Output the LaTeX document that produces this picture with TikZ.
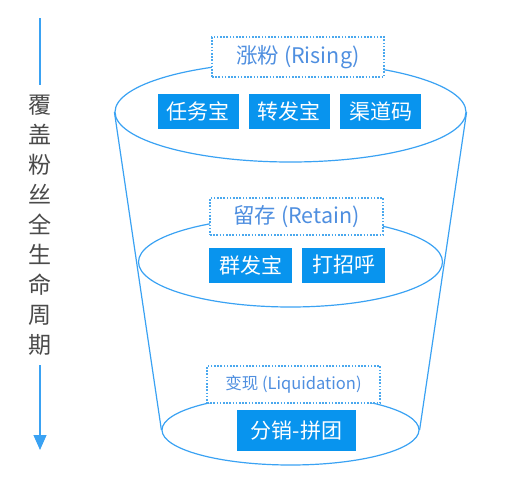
\documentclass[tikz,border=0pt]{standalone}
\usepackage{fontspec}
\setmainfont{Noto Sans CJK SC}
\usepackage{xcolor}
\usepackage{tikz}
\usetikzlibrary{positioning,shapes.geometric,arrows.meta}

\definecolor{cupline}{HTML}{3AA2F3}
\definecolor{dashblue}{HTML}{4AA8EE}
\definecolor{stagetext}{HTML}{4F8FE0}
\definecolor{toolblue}{HTML}{0894EE}
\definecolor{graytext}{HTML}{4A4A4A}

\tikzset{
  rim/.style={draw=cupline, line width=1.2pt, ellipse, inner sep=0pt},
  stage/.style={draw=dashblue, line width=1.1pt, dash pattern=on 1.6pt off 1.6pt,
    fill=white, rectangle, inner sep=0pt, text=stagetext,
    font=\fontsize{21.5}{21.5}\selectfont},
  tool/.style={fill=toolblue, text=white, rectangle, inner sep=0pt,
    minimum width=81pt, minimum height=35pt, font=\fontsize{21}{21}\selectfont},
}

\begin{document}
\begin{tikzpicture}[x=1pt, y=-1pt]
            \useasboundingbox (0,0) rectangle (523,477);

            % cup
            \node (rimtop) [rim, minimum width=351pt, minimum height=100pt] at (290.5,112) {};
            \node (rimmid) [rim, minimum width=304pt, minimum height=90pt] at (290.5,262) {};
            \node (rimbot) [rim, minimum width=257pt, minimum height=70pt] at (290.5,430) {};
            \draw[cupline, line width=1.2pt] (rimtop.west) -- (rimbot.west);
            \draw[cupline, line width=1.2pt] (rimtop.east) -- (rimbot.east);

            % stages
            \node (rising) [stage, minimum width=172pt, minimum height=40pt] at (298,57) {涨粉 (Rising)};
            \node (retain) [stage, minimum width=173pt, minimum height=37pt] at (296.5,216.5) {留存 (Retain)};
            \node (liquid) [stage, minimum width=173pt, minimum height=37pt, font=\fontsize{16.5}{16.5}\selectfont] at (293.5,384.5) {变现 (Liquidation)};

            % tools
            \node (renwu) [tool] at (198,111.5) {任务宝};
            \node (zhuanfa) [tool, right=10pt of renwu] {转发宝};
            \node (qudao) [tool, right=10pt of zhuanfa] {渠道码};
            \node (qunfa) [tool, minimum width=83pt] at (250.5,265) {群发宝};
            \node (dazhao) [tool, minimum width=83pt, right=10pt of qunfa] {打招呼};
            \node (fenxiao) [tool, minimum width=119pt, minimum height=41pt] at (296.5,430.5) {分销-拼团\hspace{10pt}};

            % lifecycle
            \node (cycle) [text=graytext, align=center, inner xsep=4pt, inner ysep=10pt,
              font=\fontsize{23}{30}\selectfont] at (40,225) {覆\\盖\\粉\\丝\\全\\生\\命\\周\\期};
            \coordinate (arrtop) at (40,18);
            \coordinate (arrend) at (40,450);
            \draw[cupline, line width=1.2pt] (arrtop) -- (cycle);
            \draw[cupline, line width=1.2pt, -{Triangle[width=13pt,length=15pt]}] (cycle) -- (arrend);
        \end{tikzpicture}
\end{document}
